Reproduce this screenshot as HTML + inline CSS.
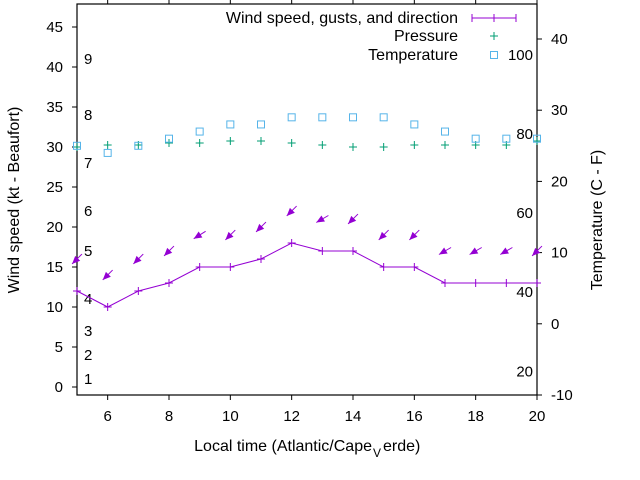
<!DOCTYPE html>
<html><head><meta charset="utf-8"><style>
html,body{margin:0;padding:0;background:#fff;}
svg{display:block;font-family:"Liberation Sans",sans-serif;}
</style></head><body>
<svg id="chart" width="640" height="480" viewBox="0 0 640 480" xmlns="http://www.w3.org/2000/svg">
<rect width="640" height="480" fill="#fff"/>
</svg>
<script>
const hours = [5,6,7,8,9,10,11,12,13,14,15,16,17,18,19,20];
const windSpeed = [12,10,12,13,15,15,16,18,17,17,15,15,13,13,13,13];
const gusts = [16,14,16,17,19,19,20,22,21,21,19,19,17,17,17,17];
const windDir = [45,45,45,45,58,45,45,45,60,45,45,45,60,60,60,45];
const pressure = [30,30.25,30.25,30.5,30.5,30.75,30.75,30.5,30.25,30,30,30.25,30.25,30.25,30.25,30.75];
const temperature = [25,24,25,26,27,28,28,29,29,29,29,28,27,26,26,26];
const xTicks = [6,8,10,12,14,16,18,20];
const yTicks = [0,5,10,15,20,25,30,35,40,45];
const y2Ticks = [-10,0,10,20,30,40];
const beaufortKt = [1,4,7,11,17,22,28,34,41];
const beaufortLabels = ["1","2","3","4","5","6","7","8","9"];
const fahrenheit = [20,40,60,80,100];

const svg = document.getElementById('chart');
const NS = 'http://www.w3.org/2000/svg';
const L=77,R=537,T=4,B=395;
const X = h => L + (h-5)/(20-5)*(R-L);
const Y = v => B - (v+1)*8;
const Y2 = c => B - (c+10)*7.12;
function el(tag, attrs, parent){const e=document.createElementNS(NS,tag);for(const k in attrs)e.setAttribute(k,attrs[k]);(parent||svg).appendChild(e);return e;}
function txt(s,x,y,anchor,parent,fs){const t=el('text',{x:x,y:y,'font-size':fs||14,'text-anchor':anchor||'start',fill:'#000'},parent);t.textContent=s;return t;}

const axes = el('g',{});


el('rect',{x:L,y:T,width:R-L,height:B-T,fill:'none',stroke:'#000','stroke-width':1.2},axes);
xTicks.forEach(h=>{
  el('line',{x1:X(h),y1:B,x2:X(h),y2:B+5,stroke:'#000'},axes);
  el('line',{x1:X(h),y1:T,x2:X(h),y2:T-5,stroke:'#000'},axes);
  const t=txt(String(h),X(h),421,'middle',axes,15);
  
  
});
yTicks.forEach(v=>{
  el('line',{x1:L-5,y1:Y(v),x2:L,y2:Y(v),stroke:'#000'},axes);
  const t=txt(String(v),63,Y(v)+5,'end',axes,15);
  
  
});
y2Ticks.forEach(c=>{
  el('line',{x1:R,y1:Y2(c),x2:R+5,y2:Y2(c),stroke:'#000'},axes);
  const t=txt(String(c),551,Y2(c)+5,'start',axes,15);
  
  
});
beaufortKt.forEach((k,i)=>{
  const t=txt(beaufortLabels[i],84,Y(k)+5,'start',axes,15);
  
  
});
fahrenheit.forEach(f=>{
  const t=txt(String(f),533,Y2((f-32)*5/9)+5,'end',axes,15);
  
  
});
const xl=txt('Local time (Atlantic/Cape',372,451,'end',null,16);


const xl2=el('text',{x:373,y:457,'font-size':12});xl2.textContent='V';


const xl3=txt('erde)',383,451,'start',null,16);


const yl=el('text',{x:0,y:0,'font-size':16,'text-anchor':'middle',transform:'translate(19,200) rotate(-90)'});
yl.textContent='Wind speed (kt - Beaufort)';


const y2l=el('text',{x:0,y:0,'font-size':16,'text-anchor':'middle',transform:'translate(602,220) rotate(-90)'});
y2l.textContent='Temperature (C - F)';



const violet='#9400d3', green='#009e73', blue='#56b4e9';
function plus(x,y,c,g,s){el('line',{x1:x-s,y1:y,x2:x+s,y2:y,stroke:c},g);el('line',{x1:x,y1:y-s,x2:x,y2:y+s,stroke:c},g);}

const wg=el('g',{});


el('polyline',{points:hours.map((h,i)=>X(h)+','+Y(windSpeed[i])).join(' '),fill:'none',stroke:violet,'stroke-width':1},wg);
hours.forEach((h,i)=>plus(X(h),Y(windSpeed[i]),violet,wg,4));

const ag=el('g',{});


hours.forEach((h,i)=>{
  const cx=X(h), cy=Y(gusts[i]), d=windDir[i]*Math.PI/180, len=14;
  const ux=-Math.sin(d), uy=Math.cos(d);
  const tx=cx+ux*len/2, ty=cy+uy*len/2, sx=cx-ux*len/2, sy=cy-uy*len/2;
  el('line',{x1:sx,y1:sy,x2:tx,y2:ty,stroke:violet,'stroke-width':1},ag);
  const hl=8, hw=3.5, bx=tx-ux*hl, by=ty-uy*hl;
  el('polygon',{points:`${tx},${ty} ${bx-uy*hw},${by+ux*hw} ${bx+uy*hw},${by-ux*hw}`,fill:violet},ag);
});

const pg=el('g',{});


hours.forEach((h,i)=>plus(X(h),Y(pressure[i]),green,pg,4));

const tg=el('g',{});


hours.forEach((h,i)=>el('rect',{x:X(h)-3.5,y:Y2(temperature[i])-3.5,width:7,height:7,fill:'none',stroke:blue,'stroke-width':1},tg));

const lg=el('g',{});


txt('Wind speed, gusts, and direction',458,23,'end',lg,16);
el('line',{x1:472,y1:18,x2:516,y2:18,stroke:violet},lg);
el('line',{x1:472,y1:14,x2:472,y2:22,stroke:violet},lg);
el('line',{x1:516,y1:14,x2:516,y2:22,stroke:violet},lg);
plus(494,18,violet,lg,4);
txt('Pressure',458,41,'end',lg,16);
plus(494,36,green,lg,4);
txt('Temperature',458,60,'end',lg,16);
el('rect',{x:490.5,y:51.5,width:7,height:7,fill:'none',stroke:blue},lg);
</script>
</body></html>
